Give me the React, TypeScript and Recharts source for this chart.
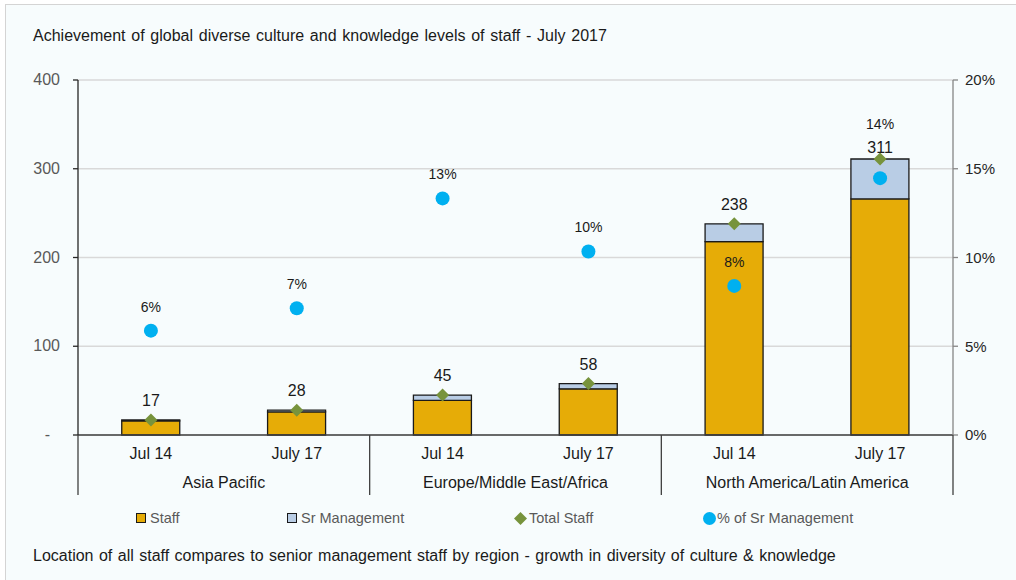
import React from 'react';
import { ComposedChart, Bar, Line, XAxis, YAxis, CartesianGrid, LabelList } from 'recharts';

const periods = ['Jul 14', 'July 17', 'Jul 14', 'July 17', 'Jul 14', 'July 17'];
const regions = [
  'Asia Pacific', 'Asia Pacific',
  'Europe/Middle East/Africa', 'Europe/Middle East/Africa',
  'North America/Latin America', 'North America/Latin America',
];
const staff = [16, 26, 39, 52, 218, 266];
const srManagement = [1, 2, 6, 6, 20, 45];
const totalStaff = [17, 28, 45, 58, 238, 311];
const pctSrManagement = [5.88, 7.14, 13.33, 10.34, 8.4, 14.47];
const leftTicks = [0, 100, 200, 300, 400];
const rightTicks = [0, 5, 10, 15, 20];
const legendNames = ['Staff', 'Sr Management', 'Total Staff', '% of Sr Management'];

const COLORS = {
  staff: '#E6AC07',
  sr: '#B9CDE5',
  total: '#77933C',
  pct: '#00B0F0',
};

const data = periods.map((period, i) => ({
  period,
  region: regions[i],
  staff: staff[i],
  sr: srManagement[i],
  total: totalStaff[i],
  pct: pctSrManagement[i],
}));

const FONT = '"Liberation Sans", Arial, sans-serif';

const PeriodTick = (props: any) => {
  const { x, y, payload, index } = props;
  const half = payload.offset ?? 0;
  const i = payload.index ?? index;
  return (
    <g>
      <text x={x} y={y + 24} textAnchor="middle" fill="#1a1a1a" fontSize={16} fontFamily={FONT}>
        {payload.value}
      </text>
      {i % 2 === 0 && (
        <>
          <line x1={x - half} x2={x - half} y1={y} y2={y + 60} stroke="#404040" strokeWidth={1.3} />
          <text x={x + half} y={y + 53} textAnchor="middle" fill="#1a1a1a" fontSize={16} fontFamily={FONT}>
            {regions[i]}
          </text>
        </>
      )}
      {i === periods.length - 1 && (
        <line x1={x + half} x2={x + half} y1={y} y2={y + 60} stroke="#404040" strokeWidth={1.3} />
      )}
    </g>
  );
};

const LeftTick = (props: any) => {
  const { x, y, payload } = props;
  const v = payload.value;
  return (
    <text x={v === 0 ? x - 10 : x} y={y} dy={5} textAnchor="end" fill="#595959" fontSize={16} fontFamily={FONT}>
      {v === 0 ? '-' : v}
    </text>
  );
};

const Diamond = (props: any) => {
  const { cx, cy, index } = props;
  if (cx == null || cy == null) return null;
  const r = 6.5;
  return (
    <path
      key={`dia-${index}`}
      d={`M${cx},${cy - r}L${cx + r},${cy}L${cx},${cy + r}L${cx - r},${cy}Z`}
      fill={COLORS.total}
    />
  );
};

const Dot = (props: any) => {
  const { cx, cy, index } = props;
  if (cx == null || cy == null) return null;
  return <circle key={`dot-${index}`} cx={cx} cy={cy} r={7} fill={COLORS.pct} />;
};

const TotalLabel = (props: any) => {
  const { x, y, value, index } = props;
  const lift = index === 5 ? 11 : 19;
  return (
    <text x={x} y={y - lift} dy={5} textAnchor="middle" fill="#1a1a1a" fontSize={16} fontFamily={FONT}>
      {value}
    </text>
  );
};

const PctLabel = (props: any) => {
  const { x, y, value, index } = props;
  const lift = index === 5 ? 54 : 24;
  return (
    <text x={x} y={y - lift} dy={5} textAnchor="middle" fill="#1a1a1a" fontSize={14} fontFamily={FONT}>
      {`${Math.round(value)}%`}
    </text>
  );
};

const LegendMarker = ({ i }: { i: number }) => {
  if (i === 0 || i === 1) {
    return (
      <span
        style={{
          display: 'inline-block', boxSizing: 'border-box', width: 10, height: 10,
          background: i === 0 ? COLORS.staff : COLORS.sr, border: '1.5px solid #1a1a1a', marginRight: 4,
        }}
      />
    );
  }
  if (i === 2) {
    return (
      <svg width={13} height={13} style={{ marginRight: 2 }}>
        <path d="M6.5,0L13,6.5L6.5,13L0,6.5Z" fill={COLORS.total} />
      </svg>
    );
  }
  return (
    <svg width={13} height={13} style={{ marginRight: 1 }}>
      <circle cx={6.5} cy={6.5} r={6.5} fill={COLORS.pct} />
    </svg>
  );
};

const legendLeft = [136, 287, 514, 703];

export default function App() {
  return (
    <div style={{ position: 'absolute', left: 0, top: 0, width: 1016, height: 580, background: '#fff', overflow: 'hidden' }}>
      <div
        style={{
          position: 'absolute', left: 5, top: 4, width: 1011, height: 576,
          background: '#F7FCFD', borderTop: '1px solid #d4d4d4', borderLeft: '1px solid #d4d4d4',
        }}
      />
      <div style={{ position: 'absolute', left: 33, top: 27, fontFamily: FONT, fontSize: 16, wordSpacing: 1.3, color: '#1a1a1a', whiteSpace: 'nowrap' }}>
        Achievement of global diverse culture and knowledge levels of staff - July 2017
      </div>
      <div style={{ position: 'absolute', left: 0, top: 0 }}>
        <ComposedChart
          width={1016}
          height={580}
          data={data}
          margin={{ top: 80, right: 13, left: 28, bottom: 85 }}
          barCategoryGap="30%"
        >
          <CartesianGrid yAxisId="left" vertical={false} stroke="#d9d9d9" strokeWidth={1.3} />
          <XAxis
            dataKey="period"
            height={60}
            tickSize={0}
            tickMargin={0}
            tickLine={false}
            axisLine={{ stroke: '#404040', strokeWidth: 1.3 }}
            tick={<PeriodTick />}
            interval={0}
          />
          <YAxis
            yAxisId="left"
            domain={[0, 400]}
            ticks={leftTicks}
            width={50}
            tickSize={5}
            tickMargin={13}
            axisLine={{ stroke: '#262626', strokeWidth: 1.3 }}
            tickLine={{ stroke: '#262626', strokeWidth: 1.3 }}
            tick={<LeftTick />}
          />
          <YAxis
            yAxisId="right"
            orientation="right"
            domain={[0, 20]}
            ticks={rightTicks}
            width={50}
            tickSize={5}
            tickMargin={7}
            axisLine={{ stroke: '#868686', strokeWidth: 1.3 }}
            tickLine={{ stroke: '#868686', strokeWidth: 1.3 }}
            tickFormatter={(v: number) => `${v}%`}
            tick={{ fill: '#262626', fontSize: 15, fontFamily: FONT }}
          />
          <Bar yAxisId="left" dataKey="staff" name="Staff" stackId="a" fill={COLORS.staff} stroke="#1a1a1a" strokeWidth={1.3} isAnimationActive={false} />
          <Bar yAxisId="left" dataKey="sr" name="Sr Management" stackId="a" fill={COLORS.sr} stroke="#1a1a1a" strokeWidth={1.3} isAnimationActive={false} />
          <Line yAxisId="left" dataKey="total" name="Total Staff" stroke="none" dot={<Diamond />} activeDot={false} isAnimationActive={false}>
            <LabelList dataKey="total" content={<TotalLabel />} />
          </Line>
          <Line yAxisId="right" dataKey="pct" name="% of Sr Management" stroke="none" dot={<Dot />} activeDot={false} isAnimationActive={false}>
            <LabelList dataKey="pct" content={<PctLabel />} />
          </Line>
        </ComposedChart>
      </div>
      {legendNames.map((name, i) => (
        <div
          key={name}
          style={{
            position: 'absolute', left: legendLeft[i], top: 509, height: 18, display: 'flex', alignItems: 'center',
            fontFamily: FONT, fontSize: 14.5, color: '#595959', whiteSpace: 'nowrap',
          }}
        >
          <LegendMarker i={i} />
          <span>{name}</span>
        </div>
      ))}
      <div style={{ position: 'absolute', left: 33, top: 547, fontFamily: FONT, fontSize: 16, wordSpacing: 1, color: '#1a1a1a', whiteSpace: 'nowrap' }}>
        Location of all staff compares to senior management staff by region - growth in diversity of culture &amp; knowledge
      </div>
    </div>
  );
}
